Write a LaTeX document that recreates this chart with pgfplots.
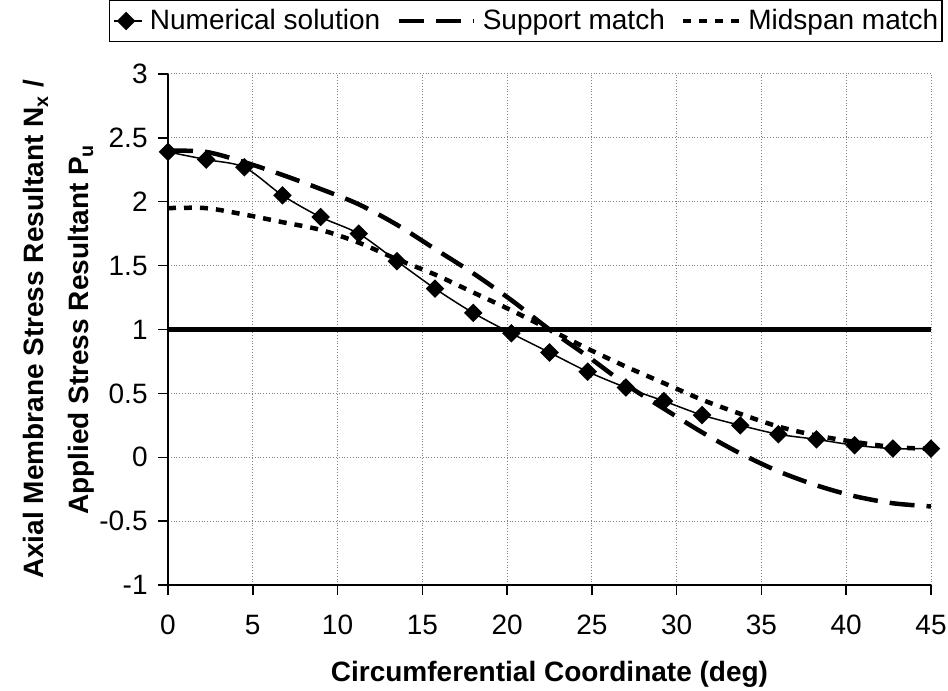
\documentclass[border=0pt]{standalone}
\usepackage{fontspec}
\setmainfont{Liberation Sans}
\usepackage{pgfplots}
\usepackage{pgfplotstable}
\pgfplotsset{compat=1.18}
\pgfplotsset{
  numleg/.style={legend image code/.code={\draw[mark repeat=2,mark phase=2,##1] plot coordinates {(0pt,0pt) (6pt,0pt) (14pt,0pt)};}},
  supleg/.style={legend image code/.code={\draw[##1] (0pt,0pt) -- (37.5pt,0pt);}},
  midleg/.style={legend image code/.code={\draw[##1] (0pt,0pt) -- (28pt,0pt);}},
}

\pgfplotstableread{
x     num    sup    mid
0     2.39   2.40   1.95
2.25  2.33   2.39   1.95
4.5   2.27   2.31   1.90
6.75  2.05   2.21   1.84
9     1.88   2.10   1.78
11.25 1.75   1.98   1.68
13.5  1.535  1.82   1.55
15.75 1.32   1.63   1.43
18    1.13   1.44   1.29
20.25 0.97   1.23   1.15
22.5  0.82   1.00   1.00
24.75 0.67   0.79   0.85
27    0.546  0.57   0.71
29.25 0.44   0.38   0.58
31.5  0.33   0.195  0.45
33.75 0.25   0.03   0.34
36    0.18   -0.11  0.24
38.25 0.14   -0.22  0.17
40.5  0.094  -0.305 0.12
42.75 0.068  -0.36  0.08
45    0.068  -0.385 0.065
}\datatable

\begin{document}
\begin{tikzpicture}
\begin{axis}[
  scale only axis,
  width=381.5pt, height=255.5pt,
  xmin=0, xmax=45, ymin=-1, ymax=3,
  xtick={0,5,...,45},
  ytick={-1,-0.5,0,0.5,1,1.5,2,2.5,3},
  yticklabels={-1,-0.5,0,0.5,1,1.5,2,2.5,3},
  xticklabels={0,5,10,15,20,25,30,35,40,45},
  axis x line=bottom, axis y line=left,
  axis line style={-, black, line width=1pt},
  tick align=outside,
  major tick length=5pt,
  tick style={black, line width=0.75pt},
  grid=major,
  major grid style={gray, densely dotted, line width=0.5pt},
  tick label style={font=\fontsize{14}{16}\selectfont},
  xticklabel style={anchor=north, inner sep=0pt},
  yticklabel style={anchor=east, inner sep=0pt},
  xticklabel shift=10pt,
  yticklabel shift=5pt,
  clip=false,
  xlabel={Circumferential Coordinate (deg)},
  ylabel={Axial Membrane Stress Resultant N\textsubscript{x} /\\Applied Stress Resultant P\textsubscript{u}},
  label style={font=\bfseries\fontsize{14}{22.5}\selectfont},
  xlabel style={at={(axis description cs:0.5,0)}, yshift=-38pt, anchor=north, inner sep=0pt},
  ylabel style={at={(axis description cs:-0.0957,0.5)}, anchor=south, align=center, inner sep=0pt},
  legend columns=3,
  legend style={
    at={(axis description cs:0.469,1.1037)}, anchor=center,
    draw=black, line width=0.75pt,
    font=\fontsize{14}{16}\selectfont,
    inner xsep=2pt, inner ysep=2.5pt,
    nodes={inner xsep=0pt},
    /tikz/every odd column/.append style={column sep=3.5pt},
    /tikz/every even column/.append style={column sep=8pt},
  },
]
\addplot[black, line width=2.5pt, forget plot] coordinates {(0,1) (45,1)};
\addplot[black, line width=0.75pt, smooth, mark=square*, mark size=2.9pt,
  mark options={rotate=45, solid, fill=black}, numleg]
  table[x=x, y=num] {\datatable};
\addlegendentry{Numerical solution}
\addplot[black, line width=2.25pt, smooth, dash pattern=on 12.5pt off 6pt, supleg]
  table[x=x, y=sup] {\datatable};
\addlegendentry{Support match}
\addplot[black, line width=2.25pt, smooth, dash pattern=on 4pt off 4pt, midleg]
  table[x=x, y=mid] {\datatable};
\addlegendentry{Midspan match}
\end{axis}
\pgfresetboundingbox
\path[use as bounding box] ([shift={(-84pt,-52.5pt)}]current axis.south west) rectangle ([shift={(8.5pt,37pt)}]current axis.north east);
\end{tikzpicture}
\end{document}
